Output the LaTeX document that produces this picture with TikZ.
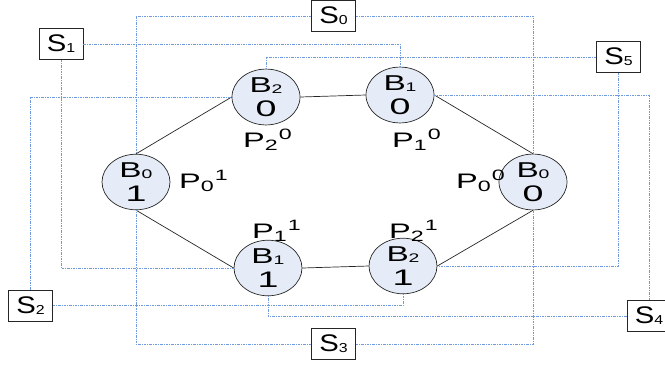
\documentclass[tikz,border=0pt]{standalone}
\usepackage{fontspec}
\usepackage{graphicx}
\setmainfont[FakeStretch=1.55]{Liberation Sans}
\newfontfamily\sfnt[FakeStretch=1.22]{Liberation Sans}
\usetikzlibrary{shapes.geometric}
\definecolor{bubfill}{RGB}{230,236,247}
\definecolor{linkblue}{RGB}{112,155,222}
\newcommand\lsub[2][12.5]{\raisebox{-1pt}{\fontsize{#1}{#1}\selectfont #2}}
\newcommand\bigdig[1]{\scalebox{1.08}[1]{\fontsize{22.5}{22.5}\selectfont #1}}
\newcommand\plabtxt[2]{P\raisebox{-3.5pt}{\fontsize{15}{15}\selectfont #1}\hspace{1pt}\raisebox{7.5pt}{\fontsize{15}{15}\selectfont #2}}
\tikzset{
  bub/.style={ellipse, draw=black!85, line width=0.7pt, fill=bubfill,
    minimum width=68pt, minimum height=48pt, inner sep=0pt, align=center,
    font=\fontsize{21.5}{24.5}\selectfont},
  sbox/.style={draw=black!85, line width=0.8pt, fill=white, minimum width=44pt,
    minimum height=31pt, inner sep=0pt, font=\sfnt\fontsize{24}{24}\selectfont},
  link/.style={draw=linkblue, line width=0.75pt, dash pattern=on 2.5pt off 1pt on 1pt off 1pt},
  edgeline/.style={draw=black!85, line width=0.7pt},
  plab/.style={anchor=base west, inner sep=0pt, font=\fontsize{21}{21}\selectfont}
}
\begin{document}
\begin{tikzpicture}[x=1pt,y=-1pt]
\path[use as bounding box] (0,0) rectangle (665,365);
% ellipses
\node[bub] (B20) at (266,97) {B\lsub{2}\\\bigdig{0}};
\node[bub] (B10) at (400,95) {B\lsub{1}\\\bigdig{0}};
\node[bub] (B0L) at (136,182) {B\lsub{0}\\\bigdig{1}};
\node[bub] (B0R) at (533,182) {B\lsub{0}\\\bigdig{0}};
\node[bub] (B11) at (268,268) {B\lsub{1}\\\bigdig{1}};
\node[bub] (B21) at (403,266) {B\lsub{2}\\\bigdig{1}};
% boxes
\node[sbox] (S0) at (333.5,16) {S\lsub[13]{0}};
\node[sbox] (S1) at (61,44) {S\lsub[13]{1}};
\node[sbox] (S5) at (618.5,57) {S\lsub[13]{5}};
\node[sbox] (S2) at (30.5,305.5) {S\lsub[13]{2}};
\node[sbox] (S3) at (333.5,344) {S\lsub[13]{3}};
\node[sbox] (S4) at (649,316) {S\lsub[13]{4}};
% solid ring
\draw[edgeline] (B0L.north) -- (B20.west);
\draw[edgeline] (B20.east) -- (B10.west);
\draw[edgeline] (B10.east) -- (B0R.north);
\draw[edgeline] (B0L.south) -- (B11.west);
\draw[edgeline] (B11.east) -- (B21.west);
\draw[edgeline] (B21.east) -- (B0R.south);
% dotted links
\draw[link] (S0.west) -| (B0L.north);
\draw[link] (S0.east) -| (B0R.north);
\draw[link] (S1.east) -| (B10.north);
\draw[link] (S1.south) |- (B11.west);
\draw[link] (S2.north) |- (B20.west);
\draw[link] (S2.east) -| (B21.south);
\draw[link] (S3.west) -| (B0L.south);
\draw[link] (S3.east) -| (B0R.south);
\draw[link] (S4.west) -| (B11.south);
\draw[link] (S4.north) |- (B10.east);
\draw[link] (S5.west) -| (B20.north);
\draw[link] (S5.south) |- (B21.east);
% labels
\node[plab] (P20) at (243,147) {\plabtxt{2}{0}};
\node[plab] (P10) at (392,147) {\plabtxt{1}{0}};
\node[plab] (P01) at (179,188) {\plabtxt{0}{1}};
\node[plab] (P00) at (456,188) {\plabtxt{0}{0}};
\node[plab] (P11) at (252,238) {\plabtxt{1}{1}};
\node[plab] (P21) at (389,238) {\plabtxt{2}{1}};
\end{tikzpicture}
\end{document}
